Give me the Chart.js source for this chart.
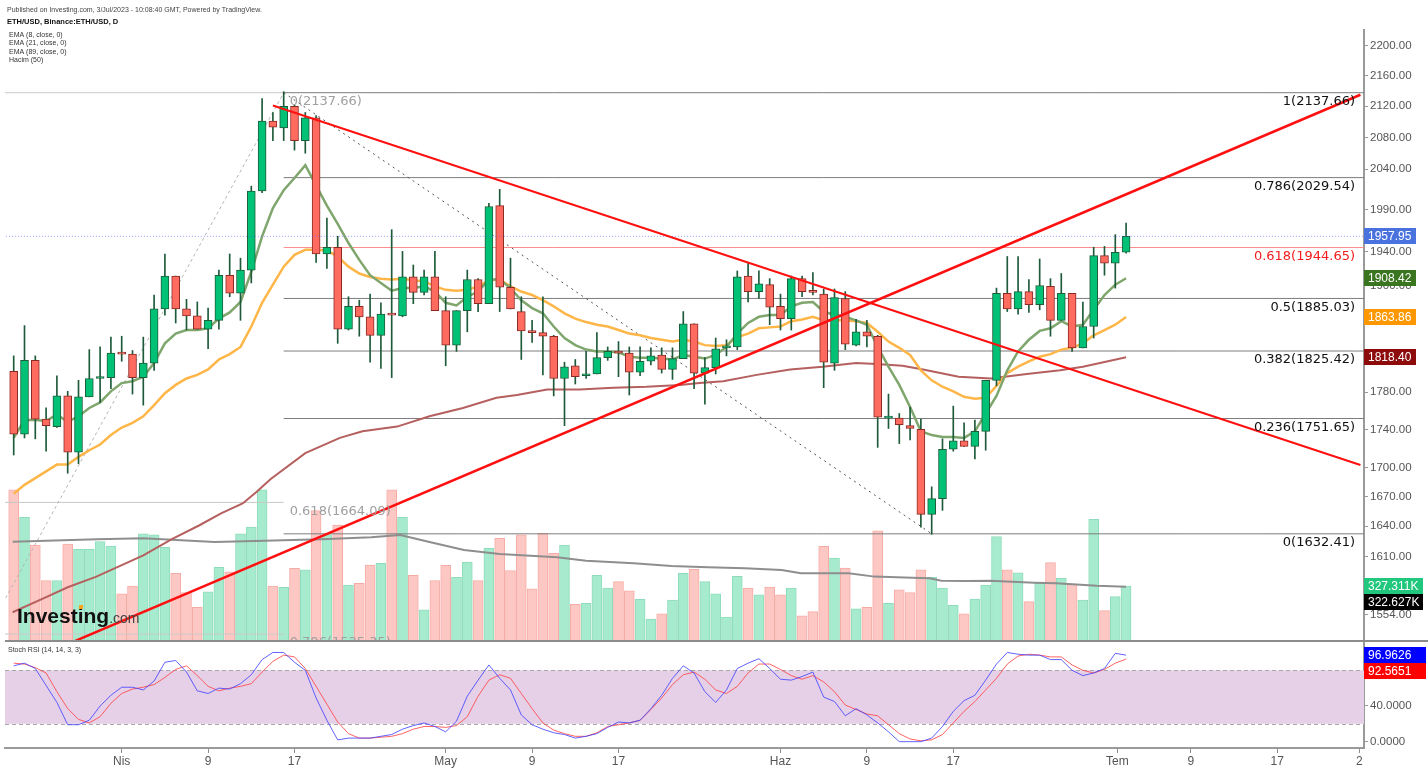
<!DOCTYPE html>
<html lang="tr">
<head>
<meta charset="utf-8">
<title>ETH/USD günlük</title>
<script src="https://cdn.jsdelivr.net/npm/chart.js@4.4.1/dist/chart.umd.min.js"></script>
<style>
  html, body { margin: 0; padding: 0; background: #ffffff; }
  #wrap { position: relative; width: 1428px; height: 770px; overflow: hidden; background: #fff; }
  #wrap canvas { position: absolute; left: 0; }
  #main { top: 0; }
  #rsi { top: 633px; }
</style>
</head>
<body>
<div id="wrap">
  <canvas id="main" width="1428" height="660"></canvas>
  <canvas id="rsi" width="1428" height="137"></canvas>
</div>
<script>
// ETH/USD daily candles, day 0 = 22 Mar 2023 ... day 103 = 3 Jul 2023
const opens = [1803, 1735, 1815, 1751, 1743, 1776, 1716, 1775, 1795, 1796,
  1824, 1822, 1796, 1812, 1873, 1911, 1873, 1865, 1850, 1860,
  1912, 1891, 1918, 2013, 2101, 2092, 2120, 2076, 2105, 1937,
  1945, 1850, 1876, 1864, 1843, 1867, 1865, 1910, 1892, 1910,
  1871, 1832, 1871, 1907, 1879, 1995, 1898, 1870, 1848, 1846,
  1842, 1795, 1809, 1798, 1800, 1818, 1825, 1823, 1802, 1814,
  1821, 1805, 1817, 1856, 1801, 1807, 1829, 1830, 1911, 1893,
  1901, 1876, 1862, 1908, 1893, 1890, 1812, 1885, 1832, 1847,
  1842, 1752, 1752, 1744, 1740, 1652, 1668, 1719, 1728, 1722,
  1738, 1793, 1891, 1873, 1893, 1878, 1899, 1860, 1891, 1829,
  1853, 1935, 1926, 1939];
const highs = [1820, 1854, 1820, 1763, 1798, 1781, 1793, 1827, 1830, 1841,
  1842, 1826, 1841, 1889, 1937, 1911, 1884, 1881, 1874, 1918,
  1937, 1932, 2019, 2130, 2112, 2139, 2122, 2112, 2108, 1980,
  1958, 1887, 1883, 1890, 1880, 1966, 1940, 1924, 1918, 1940,
  1887, 1871, 1918, 1908, 1998, 2015, 1932, 1887, 1860, 1887,
  1843, 1813, 1816, 1825, 1846, 1830, 1836, 1830, 1830, 1829,
  1829, 1829, 1870, 1856, 1818, 1840, 1838, 1917, 1927, 1917,
  1908, 1890, 1911, 1911, 1915, 1896, 1896, 1893, 1861, 1860,
  1843, 1778, 1757, 1764, 1751, 1680, 1730, 1765, 1747, 1750,
  1793, 1897, 1934, 1934, 1907, 1931, 1908, 1914, 1891, 1881,
  1945, 1946, 1960, 1974];
const lows = [1713, 1731, 1730, 1717, 1742, 1694, 1704, 1775, 1769, 1784,
  1814, 1778, 1766, 1804, 1866, 1857, 1849, 1850, 1828, 1850,
  1887, 1860, 1903, 2011, 2076, 2076, 2064, 2060, 1927, 1920,
  1834, 1849, 1842, 1813, 1806, 1796, 1864, 1879, 1889, 1871,
  1809, 1825, 1847, 1870, 1879, 1870, 1873, 1816, 1835, 1799,
  1776, 1744, 1789, 1795, 1800, 1815, 1797, 1777, 1798, 1810,
  1801, 1794, 1817, 1784, 1767, 1800, 1820, 1827, 1881, 1885,
  1855, 1849, 1849, 1887, 1889, 1785, 1804, 1827, 1831, 1830,
  1721, 1741, 1725, 1729, 1639, 1632, 1656, 1717, 1722, 1709,
  1718, 1787, 1870, 1867, 1869, 1872, 1842, 1860, 1825, 1829,
  1840, 1912, 1897, 1938];
const closes = [1735, 1815, 1751, 1744, 1776, 1716, 1775, 1795, 1796, 1823,
  1822, 1796, 1812, 1873, 1911, 1873, 1865, 1850, 1860, 1912,
  1891, 1918, 2013, 2101, 2093, 2120, 2076, 2105, 1937, 1945,
  1850, 1876, 1864, 1843, 1867, 1866, 1910, 1892, 1910, 1871,
  1832, 1871, 1907, 1879, 1994, 1898, 1873, 1848, 1846, 1842,
  1795, 1808, 1797, 1800, 1818, 1825, 1823, 1802, 1814, 1820,
  1805, 1817, 1856, 1801, 1807, 1828, 1830, 1910, 1893, 1902,
  1875, 1862, 1908, 1893, 1892, 1813, 1886, 1833, 1847, 1842,
  1753, 1754, 1745, 1741, 1652, 1668, 1719, 1728, 1722, 1738,
  1793, 1891, 1873, 1893, 1878, 1900, 1860, 1891, 1829, 1853,
  1935, 1926, 1939, 1957.95];
// Hacim, thousands
const volumes = [899, 736, 571, 359, 359, 577, 546, 546, 591, 565,
  280, 327, 637, 631, 558, 403, 288, 200, 292, 438,
  411, 637, 677, 899, 327, 319, 432, 423, 776, 631,
  690, 333, 343, 452, 462, 899, 736, 391, 185, 359,
  450, 379, 470, 359, 552, 611, 419, 631, 311, 641,
  522, 571, 218, 224, 391, 315, 353, 298, 248, 131,
  161, 244, 403, 427, 353, 280, 143, 385, 315, 274,
  321, 274, 315, 149, 175, 563, 494, 434, 192, 200,
  655, 224, 304, 288, 423, 379, 315, 212, 161, 250,
  333, 621, 423, 405, 234, 343, 466, 373, 339, 244,
  724, 181, 264, 327.311];
const volMaDays = [-0.1, 7.7, 12, 18.6, 23.2, 28.5, 33.1, 35.8, 38.4, 41.7,
  45, 50.3, 53, 57.4, 60.9, 64.3, 67.7, 71.1, 72.9, 77.3,
  79.7, 83.2, 84.8, 85.9, 88.3, 90.4, 94.5, 96.5, 100.3, 103];
const volMa = [591, 605, 611, 589, 597, 605, 617, 631, 591, 541,
  518, 498, 478, 462, 446, 439, 433, 422, 403, 403,
  383, 377, 373, 359, 357, 359, 347, 343, 328, 322.627];

const ema8 = [1731, 1750, 1750, 1749, 1756, 1748, 1754, 1763, 1769, 1781,
  1790, 1792, 1797, 1812, 1834, 1845, 1849, 1849, 1851, 1862,
  1869, 1881, 1916, 1958, 1992, 2014, 2029, 2045, 2020, 1995,
  1973, 1950, 1930, 1912, 1903, 1894, 1897, 1897, 1899, 1893,
  1880, 1877, 1887, 1893, 1907, 1907, 1897, 1883, 1874, 1868,
  1853, 1840, 1832, 1827, 1825, 1825, 1824, 1819, 1818, 1818,
  1817, 1816, 1821, 1819, 1817, 1821, 1830, 1845, 1857, 1864,
  1866, 1866, 1876, 1880, 1881, 1870, 1866, 1864, 1860, 1855,
  1830, 1808, 1788, 1764, 1738, 1734, 1732, 1732, 1731, 1738,
  1757, 1776, 1804, 1825, 1838, 1848, 1851, 1859, 1853, 1855,
  1872, 1889, 1901, 1908.42];
const ema21 = [1673, 1682, 1689, 1696, 1703, 1703, 1711, 1718, 1724, 1734,
  1742, 1747, 1754, 1766, 1779, 1788, 1795, 1799, 1805, 1816,
  1822, 1830, 1853, 1880, 1901, 1922, 1936, 1942, 1942, 1941,
  1934, 1922, 1914, 1910, 1908, 1907, 1908, 1906, 1905, 1899,
  1895, 1894, 1895, 1899, 1906, 1907, 1899, 1893, 1889, 1883,
  1876, 1868, 1862, 1858, 1855, 1853, 1849, 1845, 1843, 1840,
  1838, 1836, 1838, 1836, 1832, 1831, 1832, 1841, 1845, 1851,
  1852, 1853, 1859, 1861, 1864, 1860, 1860, 1860, 1859, 1857,
  1847, 1836, 1829, 1821, 1804, 1793, 1786, 1781, 1775, 1773,
  1774, 1787, 1801, 1808, 1814, 1819, 1822, 1827, 1829, 1834,
  1843, 1849, 1855, 1863.86];
const ema89Days = [-0.1, 2.7, 5, 7.6, 9.7, 12, 14.6, 17.2, 19.2, 21.2,
  22.5, 23.8, 27, 30.2, 32.3, 35.5, 38.5, 41.6, 44.7, 46.6,
  49.4, 52.4, 55.5, 58.6, 61.7, 63.5, 65.7, 68.8, 71.9, 74.9,
  78, 79.9, 82.3, 84.2, 87.5, 90.5, 93.8, 96.9, 99, 100.9, 103];
const ema89 = [1556, 1569, 1580, 1590, 1600, 1611, 1627, 1641, 1653, 1663,
  1675, 1688, 1715, 1731, 1738, 1743, 1754, 1763, 1774, 1777,
  1783, 1783, 1785, 1786, 1788, 1790, 1792, 1799, 1805, 1808,
  1812, 1811, 1809, 1805, 1797, 1795, 1800, 1804, 1808, 1813, 1818.40];

// Stoch RSI (14, 14, 3, 3)
const stochK = [85, 88, 82, 63, 44, 19, 19, 24, 40, 52,
  61, 61, 58, 68, 89, 91, 78, 57, 54, 60,
  59, 65, 75, 92, 100, 100, 89, 80, 49, 24,
  2, 4, 4, 4, 6, 8, 14, 18, 21, 17,
  11, 23, 51, 69, 86, 71, 58, 30, 19, 14,
  10, 8, 4, 6, 9, 16, 22, 21, 24, 37,
  52, 71, 85, 77, 56, 44, 58, 82, 88, 93,
  82, 70, 69, 73, 78, 50, 45, 29, 37, 30,
  21, 11, 0, 0, 0, 4, 17, 34, 46, 52,
  69, 87, 100, 98, 97, 97, 92, 92, 80, 74,
  77, 82, 99, 96.9626];
const stochD = [88, 87, 83, 77, 56, 37, 25, 21, 28, 43,
  54, 59, 61, 64, 72, 81, 85, 74, 62, 57,
  60, 62, 65, 78, 90, 97, 95, 82, 62, 42,
  22, 9, 4, 4, 5, 6, 9, 14, 17, 17,
  16, 18, 28, 51, 69, 75, 71, 54, 37, 21,
  13, 9, 6, 6, 10, 17, 19, 21, 24, 36,
  49, 64, 75, 78, 70, 58, 54, 62, 77, 87,
  87, 81, 74, 70, 74, 67, 56, 41, 36, 31,
  29, 19, 9, 3, 1, 2, 8, 21, 34, 45,
  58, 71, 87, 96, 98, 97, 95, 95, 86, 80,
  77, 81, 88, 92.5651];

const priceTicks = [2200, 2160, 2120, 2080, 2040, 1990, 1940, 1900, 1860, 1820, 1780, 1740, 1700, 1670, 1640, 1610, 1554];
const rsiTicks = [0, 40, 80];
const xTickDays = [10, 18, 26, 40, 48, 56, 71, 79, 87, 102.2, 109, 117, 124.6];
const xTickLabels = ['Nis', '9', '17', 'May', '9', '17', 'Haz', '9', '17', 'Tem', '9', '17', '2'];

// fib retracement 16 Apr high -> 15 Jun low, extended right
const fibRatios = ['1', '0.786', '0.618', '0.5', '0.382', '0.236', '0'];
const fibLevels = [2137.66, 2029.54, 1944.65, 1885.03, 1825.42, 1751.65, 1632.41];
// older fib from the 10 Mar low
const oldFibRatios = ['0', '0.618', '0.786'];
const oldFibLevels = [2137.66, 1664.09, 1535.35];
const fibSplitDay = 25;

// drawings: [day, price]
const trendDown = [[24.0, 2121], [124.7, 1702.6]];
const trendUp = [[5.7, 1529], [124.7, 2135]];
const swingOld = [[-12, 1371.37], [25, 2137.66]];
const swingNew = [[25, 2137.66], [85, 1632.41]];

const X_MIN = -0.806, X_MAX = 125.03;
const last = closes.length - 1;

Chart.defaults.font.family = 'Arial, "Liberation Sans", sans-serif';

const days = closes.map((c, i) => i);
const isUp = closes.map((c, i) => c >= opens[i]);
const pts = (xs, ys) => xs.map((x, i) => ({ x: x, y: ys[i] }));
const seg = (p) => p.map(q => ({ x: q[0], y: q[1] }));

function hLine(from, to, value, color, order, dash) {
  return { type: 'line', data: [{ x: from, y: value }, { x: to, y: value }],
    borderColor: color, borderWidth: 1, borderDash: dash || [], pointRadius: 0, order: order };
}

function tag(ctx, x, yc, w, text, bg) {
  const top = Math.round(yc - 8);
  ctx.fillStyle = bg;
  ctx.fillRect(x, top, w, 16);
  ctx.fillStyle = '#fff';
  ctx.font = '12px Arial, "Liberation Sans", sans-serif';
  ctx.textAlign = 'left';
  ctx.textBaseline = 'middle';
  ctx.fillText(text, x + 4, top + 8.5);
  return top + 16;
}

const mainOverlay = {
  id: 'mainOverlay',
  afterDatasetsDraw(chart) {
    const { ctx, chartArea: a, scales } = chart;
    const sx = scales.x, sy = scales.y;
    ctx.save();
    ctx.beginPath();
    ctx.rect(a.left, a.top, a.right - a.left, a.bottom - a.top);
    ctx.clip();
    ctx.font = '13px "DejaVu Sans", Verdana, sans-serif';
    ctx.textBaseline = 'middle';
    ctx.textAlign = 'right';
    fibLevels.forEach((lv, i) => {
      ctx.fillStyle = fibRatios[i] === '0.618' ? '#f21d1d' : '#111';
      ctx.fillText(fibRatios[i] + '(' + lv.toFixed(2) + ')', a.right - 9, sy.getPixelForValue(lv) + 9);
    });
    ctx.textAlign = 'left';
    ctx.fillStyle = '#a0a0a0';
    const ox = sx.getPixelForValue(fibSplitDay) + 6;
    oldFibLevels.forEach((lv, i) => {
      ctx.fillText(oldFibRatios[i] + '(' + lv.toFixed(2) + ')', ox, sy.getPixelForValue(lv) + 9);
    });

    // logo
    ctx.textBaseline = 'alphabetic';
    ctx.font = 'bold 21px Arial, "Liberation Sans", sans-serif';
    ctx.fillStyle = '#111';
    ctx.fillText('Investing', 17, 623);
    const w = ctx.measureText('Investing').width;
    ctx.font = '14px Arial, "Liberation Sans", sans-serif';
    ctx.fillStyle = '#444';
    ctx.fillText('.com', 17 + w, 623);
    ctx.fillStyle = '#f5a623';
    ctx.fillRect(79, 605, 4, 4);
    ctx.restore();
  },
  afterDraw(chart) {
    const { ctx, chartArea: a, scales } = chart;
    ctx.save();
    ctx.strokeStyle = '#8c8c8c';
    ctx.lineWidth = 2;
    ctx.beginPath();
    ctx.moveTo(a.left, a.bottom);
    ctx.lineTo(chart.width, a.bottom);
    ctx.stroke();

    ctx.textAlign = 'left';
    ctx.textBaseline = 'middle';
    ctx.fillStyle = '#444';
    ctx.font = '7px Arial, "Liberation Sans", sans-serif';
    ctx.fillText('Published on Investing.com, 3/Jul/2023 - 10:08:40 GMT, Powered by TradingView.', 7, 10);
    ctx.fillStyle = '#111';
    ctx.font = 'bold 7.5px Arial, "Liberation Sans", sans-serif';
    ctx.fillText('ETH/USD, Binance:ETH/USD, D', 7, 22);
    ctx.fillStyle = '#333';
    ctx.font = '7px Arial, "Liberation Sans", sans-serif';
    ['EMA (8, close, 0)', 'EMA (21, close, 0)', 'EMA (89, close, 0)', 'Hacim (50)'].forEach((t, i) => {
      ctx.fillText(t, 9, 35 + i * 8.3);
    });

    const sy = scales.y, sv = scales.yVol;
    const ax = a.right;
    tag(ctx, ax, sy.getPixelForValue(closes[last]), 52, closes[last].toFixed(2), '#4a72df');
    tag(ctx, ax, sy.getPixelForValue(ema8[last]), 52, ema8[last].toFixed(2), '#3a761f');
    tag(ctx, ax, sy.getPixelForValue(ema21[last]), 52, ema21[last].toFixed(2), '#ff9800');
    tag(ctx, ax, sy.getPixelForValue(ema89[ema89.length - 1]), 52, ema89[ema89.length - 1].toFixed(2), '#8e0b0b');
    const b = tag(ctx, ax, sv.getPixelForValue(volumes[last]), 59, volumes[last].toFixed(3) + 'K', '#20c77c');
    tag(ctx, ax, b + 8, 59, volMa[volMa.length - 1].toFixed(3) + 'K', '#000');
    ctx.restore();
  }
};

new Chart(document.getElementById('main'), {
  type: 'bar',
  data: {
    datasets: [
      { type: 'bar', yAxisID: 'yVol', data: pts(days, volumes),
        backgroundColor: isUp.map(u => u ? '#a7ebcf' : '#fdc8c4'),
        borderColor: isUp.map(u => u ? '#8edcbb' : '#f6aca6'),
        borderWidth: 1, barThickness: 10, grouped: false, order: 20 },
      { type: 'line', yAxisID: 'yVol', data: pts(volMaDays, volMa),
        borderColor: '#8e8e8e', borderWidth: 2, pointRadius: 0, order: 19 },
      ...oldFibLevels.map(lv => hLine(-12, fibSplitDay, lv, '#c9c9c9', 18)),
      ...fibLevels.map((lv, i) => hLine(fibSplitDay, X_MAX, lv, fibRatios[i] === '0.618' ? '#ff8c8c' : '#7d7d7d', 17)),
      { type: 'line', data: seg(swingOld), borderColor: '#b4b4b4', borderWidth: 1,
        borderDash: [3, 3], pointRadius: 0, order: 16 },
      { type: 'line', data: seg(swingNew), borderColor: '#555', borderWidth: 1,
        borderDash: [2, 4], pointRadius: 0, order: 16 },
      { type: 'line', data: pts(ema89Days, ema89), borderColor: '#b5605e',
        borderWidth: 2, pointRadius: 0, order: 15 },
      { type: 'line', data: pts(days, ema21), borderColor: '#ffb648',
        borderWidth: 2.5, pointRadius: 0, order: 14 },
      { type: 'line', data: pts(days, ema8), borderColor: '#7fa66d',
        borderWidth: 2.5, pointRadius: 0, order: 13 },
      { type: 'bar', data: days.map(i => ({ x: i, y: [lows[i], highs[i]] })),
        backgroundColor: '#1e5a3a', barThickness: 1, grouped: false, order: 5 },
      { type: 'bar', data: days.map(i => ({ x: i, y: [opens[i], closes[i]] })),
        backgroundColor: isUp.map(u => u ? '#00c176' : '#ff6b5e'),
        borderColor: isUp.map(u => u ? '#1d5e3a' : '#8b2a25'),
        borderWidth: 1, borderSkipped: false, barThickness: 8, minBarLength: 2,
        grouped: false, order: 4 },
      hLine(-1, X_MAX + 1, closes[last], 'rgba(90,100,255,0.6)', 2, [1, 2]),
      { type: 'line', data: seg(trendDown), borderColor: '#ff1010', borderWidth: 2, pointRadius: 0, order: 1 },
      { type: 'line', data: seg(trendUp), borderColor: '#ff1010', borderWidth: 2.5, pointRadius: 0, order: 1 }
    ]
  },
  options: {
    responsive: false,
    animation: false,
    devicePixelRatio: 1,
    layout: { padding: { left: 5, top: 30, right: 0, bottom: 19 } },
    plugins: { legend: { display: false }, tooltip: { enabled: false } },
    scales: {
      x: { type: 'linear', min: X_MIN, max: X_MAX, offset: false, grid: { offset: false }, display: false },
      y: {
        type: 'logarithmic', position: 'right', min: 1528.9, max: 2221.2, bounds: 'data',
        afterBuildTicks: (s) => { s.ticks = priceTicks.map(v => ({ value: v })); },
        afterFit: (s) => { s.width = 64; },
        ticks: { color: '#555', font: { size: 11.5 }, padding: 2, callback: (v) => Number(v).toFixed(2) },
        grid: { drawOnChartArea: false, drawTicks: true, tickLength: 4, color: '#999' },
        border: { display: true, color: '#9a9a9a', width: 2 }
      },
      yVol: { type: 'linear', display: false, min: 0, max: 3635 }
    }
  },
  plugins: [mainOverlay]
});

const rsiOverlay = {
  id: 'rsiOverlay',
  beforeDatasetsDraw(chart) {
    const { ctx, chartArea: a, scales: { y } } = chart;
    const y80 = y.getPixelForValue(80), y20 = y.getPixelForValue(20);
    ctx.save();
    ctx.fillStyle = '#e5d0e8';
    ctx.fillRect(a.left, y80, a.right - a.left, y20 - y80);
    ctx.strokeStyle = '#a8a8a8';
    ctx.lineWidth = 1;
    ctx.setLineDash([4, 3]);
    [y80, y20].forEach(p => {
      ctx.beginPath();
      ctx.moveTo(a.left, Math.round(p) + 0.5);
      ctx.lineTo(a.right, Math.round(p) + 0.5);
      ctx.stroke();
    });
    ctx.restore();
  },
  afterDraw(chart) {
    const { ctx, chartArea: a, scales: { y } } = chart;
    ctx.save();
    ctx.fillStyle = '#333';
    ctx.font = '7px Arial, "Liberation Sans", sans-serif';
    ctx.textAlign = 'left';
    ctx.textBaseline = 'middle';
    ctx.fillText('Stoch RSI (14, 14, 3, 3)', 8, 17);
    const b = tag(ctx, a.right, y.getPixelForValue(stochK[last]), 62, stochK[last].toFixed(4), '#0000ff');
    tag(ctx, a.right, b + 8, 62, stochD[last].toFixed(4), '#ff0000');
    ctx.restore();
  }
};

new Chart(document.getElementById('rsi'), {
  type: 'line',
  data: {
    datasets: [
      { data: pts(days, stochD), borderColor: 'rgba(255,70,70,0.85)', borderWidth: 1, pointRadius: 0, order: 2 },
      { data: pts(days, stochK), borderColor: 'rgba(70,70,255,0.85)', borderWidth: 1, pointRadius: 0, order: 1 }
    ]
  },
  options: {
    responsive: false,
    animation: false,
    devicePixelRatio: 1,
    layout: { padding: { left: 5, top: 10, right: 0, bottom: 0 } },
    plugins: { legend: { display: false }, tooltip: { enabled: false } },
    scales: {
      x: {
        type: 'linear', min: X_MIN, max: X_MAX, offset: false,
        afterBuildTicks: (s) => { s.ticks = xTickDays.map(v => ({ value: v })); },
        afterFit: (s) => { s.height = 22; },
        ticks: { autoSkip: false, maxRotation: 0, padding: 1, color: '#555', font: { size: 12 },
          callback: (v, i) => xTickLabels[i] },
        grid: { drawOnChartArea: false, drawTicks: true, tickLength: 5, color: '#8c8c8c' },
        border: { display: true, color: '#9a9a9a', width: 2 }
      },
      y: {
        position: 'right', min: -7.1, max: 110.6,
        afterBuildTicks: (s) => { s.ticks = rsiTicks.map(v => ({ value: v })); },
        afterFit: (s) => { s.width = 64; },
        ticks: { color: '#555', font: { size: 11.5 }, padding: 2, callback: (v) => Number(v).toFixed(4) },
        grid: { drawOnChartArea: false, drawTicks: true, tickLength: 4, color: '#999' },
        border: { display: true, color: '#9a9a9a', width: 2 }
      }
    }
  },
  plugins: [rsiOverlay]
});
</script>
</body>
</html>
